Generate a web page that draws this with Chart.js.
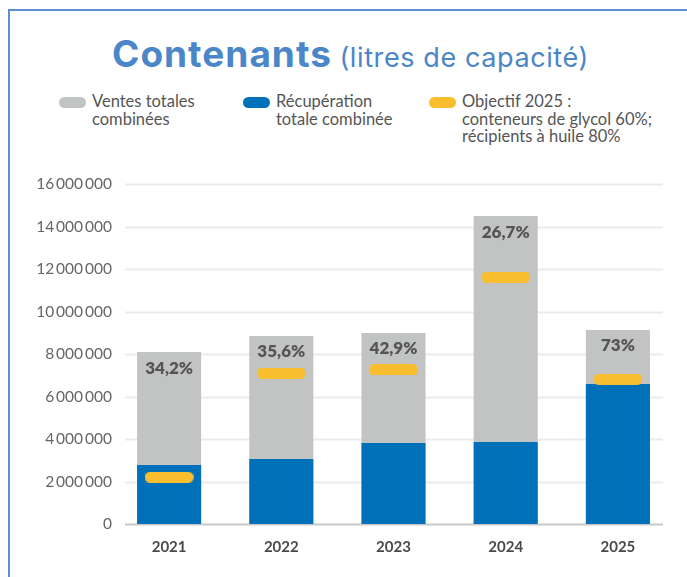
<!DOCTYPE html>
<html lang="fr">
<head>
<meta charset="utf-8">
<script src="https://cdn.jsdelivr.net/npm/chart.js@4.4.1/dist/chart.umd.min.js"></script>
<style>
  html, body { margin: 0; padding: 0; background: #fff; }
  body { width: 687px; height: 577px; position: relative; overflow: hidden; font-family: Lato, "Open Sans", sans-serif; }
  .frame { position: absolute; left: 8px; top: 9px; right: -4px; bottom: -4px; border-left: 2px solid #5a8fd2; border-top: 2px solid #5a8fd2; }
  .title { position: absolute; left: 0; width: 701px; top: 29px; line-height: 50px; text-align: center; color: #4a86c8; white-space: nowrap; font-family: Inter, sans-serif; }
  .title b { font-size: 37px; font-weight: 700; letter-spacing: 1px; }
  .title span { font-size: 27px; font-weight: 400; margin-left: 3px; letter-spacing: 0.6px; }
  .legend-item { position: absolute; top: 93px; font-size: 16.5px; line-height: 17.5px; color: #555; }
  .legend-item i { position: absolute; left: -33px; top: 4px; width: 27px; height: 11px; border-radius: 6px; }
  .chart-box { position: absolute; left: 0; top: 160px; width: 687px; height: 417px; }
</style>
</head>
<body>
<div class="frame"></div>
<div class="title"><b>Contenants</b> <span>(litres de capacité)</span></div>
<div class="legend-item" style="left:92px"><i style="background:#c2c4c3"></i>Ventes totales<br>combinées</div>
<div class="legend-item" style="left:276px"><i style="background:#0070b8"></i>Récupération<br>totale combinée</div>
<div class="legend-item" style="left:462px"><i style="background:#f9be2d"></i>Objectif 2025 :<br>conteneurs de glycol 60%;<br>récipients à huile 80%</div>
<div class="chart-box"><canvas id="containerChart"></canvas></div>
<script>
// données (litres de capacité)
const years = ["2021", "2022", "2023", "2024", "2025"];
const totalSales = [8090000, 8850000, 8990000, 14490000, 9130000];
const totalRecovery = [2780000, 3060000, 3810000, 3860000, 6590000];
const target2025 = [2200000, 7100000, 7250000, 11620000, 6820000];
const rateLabels = ["34,2%", "35,6%", "42,9%", "26,7%", "73%"];

// petite pastille jaune utilisée comme point
function makePill(w, h, color) {
  const c = document.createElement("canvas");
  c.width = w;
  c.height = h;
  const ctx = c.getContext("2d");
  ctx.fillStyle = color;
  ctx.beginPath();
  ctx.roundRect(0, 0, w, h, h / 2);
  ctx.fill();
  return c;
}

function formatNumber(v) {
  return String(v).replace(/\B(?=(\d{3})+(?!\d))/g, "\u2009");
}

// lignes de grille un peu en retrait, comme l'original
const gridPlugin = {
  id: "insetGrid",
  beforeDatasetsDraw(chart) {
    const { ctx, chartArea, scales } = chart;
    const x0 = chartArea.left + 12;
    const x1 = chartArea.right - 11;
    ctx.save();
    scales.y.ticks.forEach((t) => {
      const y = Math.round(scales.y.getPixelForValue(t.value)) + 0.5;
      ctx.strokeStyle = t.value === 0 ? "#c8c8c8" : "#ececec";
      ctx.lineWidth = 2;
      ctx.beginPath();
      ctx.moveTo(x0, y);
      ctx.lineTo(x1, y);
      ctx.stroke();
    });
    ctx.restore();
  },
};

// pourcentages en haut des barres grises
const rateLabelPlugin = {
  id: "rateLabels",
  afterDatasetsDraw(chart) {
    const { ctx } = chart;
    const meta = chart.getDatasetMeta(0);
    ctx.save();
    ctx.font = "800 17px Lato";
    ctx.fillStyle = "#555";
    ctx.textAlign = "center";
    ctx.textBaseline = "middle";
    meta.data.forEach((bar, i) => {
      ctx.fillText(rateLabels[i], bar.x, bar.y + 16);
    });
    ctx.restore();
  },
};

const config = {
  data: {
    labels: years,
    datasets: [
      {
        type: "bar",
        label: "Ventes totales combinées",
        data: totalSales,
        backgroundColor: "#c2c4c3",
        order: 2,
        barPercentage: 0.571,
        categoryPercentage: 1,
      },
      {
        type: "bar",
        label: "Récupération totale combinée",
        data: totalRecovery,
        backgroundColor: "#0070b8",
        order: 1,
        barPercentage: 0.571,
        categoryPercentage: 1,
      },
      {
        type: "line",
        label: "Objectif 2025",
        data: target2025,
        showLine: false,
        pointStyle: makePill(49, 11, "#f9be2d"),
        order: 0,
      },
    ],
  },
  options: {
    responsive: true,
    maintainAspectRatio: false,
    animation: false,
    layout: {
      padding: { top: 24, right: 13, left: 0, bottom: 0 },
    },
    plugins: {
      legend: { display: false },
      tooltip: { enabled: false },
    },
    scales: {
      x: {
        stacked: true,
        grid: { display: false, drawTicks: false },
        border: { display: false },
        ticks: {
          padding: 14,
          color: "#4a4a4a",
          font: { family: "Lato", size: 15, weight: "bold" },
        },
        afterFit(scale) {
          scale.height = 53;
        },
      },
      y: {
        stacked: false,
        min: 0,
        max: 16000000,
        grid: { display: false, drawTicks: false },
        border: { display: false },
        ticks: {
          stepSize: 2000000,
          padding: 1,
          color: "#666",
          font: { family: "Lato", size: 15.5 },
          callback: (v) => formatNumber(v),
        },
        afterFit(scale) {
          scale.width = 113;
        },
      },
    },
  },
  plugins: [gridPlugin, rateLabelPlugin],
};

const containerChart = new Chart(document.getElementById("containerChart"), config);
</script>
</body>
</html>
